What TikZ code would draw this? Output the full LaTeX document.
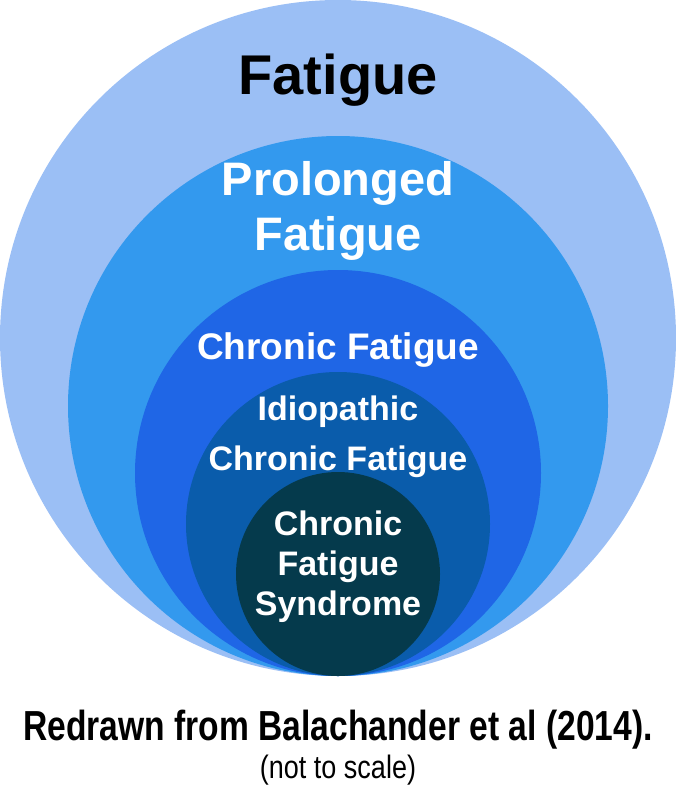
\documentclass[tikz,border=0pt]{standalone}
\usepackage{fontspec}
\setmainfont{Liberation Sans}
\definecolor{c1}{HTML}{9BBFF5}
\definecolor{c2}{HTML}{3399EE}
\definecolor{c3}{HTML}{1F66E6}
\definecolor{c4}{HTML}{0A5CAB}
\definecolor{c5}{HTML}{053A4C}
\begin{document}
\begin{tikzpicture}[x=1pt,y=-1pt,
  lab/.style={font=\bfseries, align=center, text=white, inner sep=0pt}]
\useasboundingbox (0,0) rectangle (676,789);
\fill[c1] (338,338) circle (338);
\fill[c2] (338,406) circle (270);
\fill[c3] (338,473) circle (203);
\fill[c4] (338,524) circle (152);
\fill[c5] (338,574) circle (102);
\node[lab, text=black, font=\fontsize{56}{60}\bfseries\selectfont] (f) at (338,80) {Fatigue};
\node[lab, font=\fontsize{47}{55}\bfseries\selectfont] (p) at (338,211) {Prolonged\\Fatigue};
\node[lab, font=\fontsize{37}{40}\bfseries\selectfont] (c) at (338,350) {Chronic Fatigue};
\node[lab, font=\fontsize{34}{50}\bfseries\selectfont] (i) at (338,437) {Idiopathic\\Chronic Fatigue};
\node[lab, font=\fontsize{34}{40}\bfseries\selectfont] (s) at (338,567) {Chronic\\Fatigue\\Syndrome};
\node[lab, text=black, font=\fontsize{35}{30}\bfseries\selectfont] (r) at (338,730) {\scalebox{0.96}[1.2]{Redrawn from Balachander et al (2014).}};
\node[lab, text=black, font=\fontsize{27}{26}\selectfont] (n) at (338,770) {\scalebox{1}[1.2]{(not to scale)}};
\end{tikzpicture}
\end{document}
